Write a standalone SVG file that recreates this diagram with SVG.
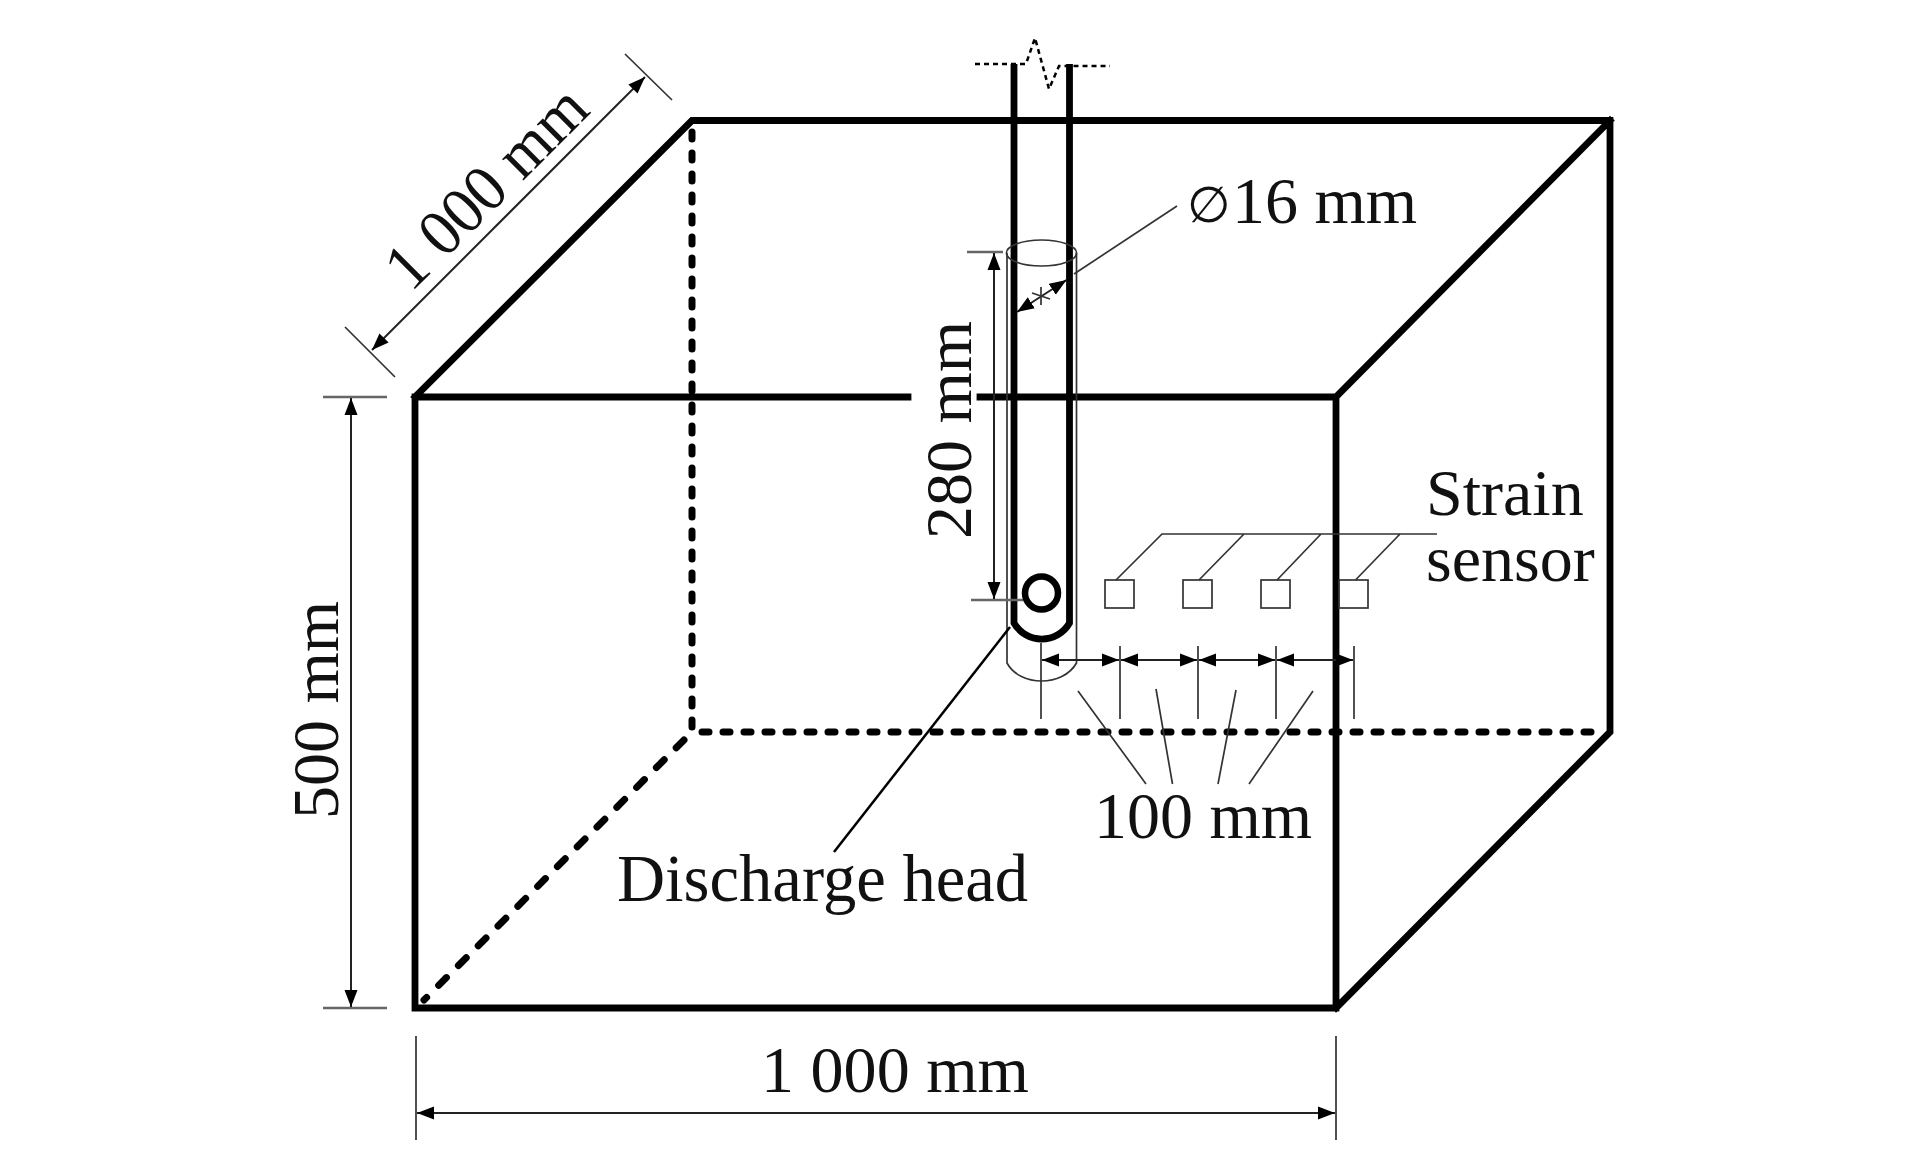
<svg xmlns="http://www.w3.org/2000/svg" width="1923" height="1169" viewBox="0 0 1923 1169">
<style>
.b{fill:none;stroke:#000;stroke-width:6.8;stroke-linecap:square}
.d{fill:none;stroke:#000;stroke-width:7;stroke-dasharray:7 14;stroke-linecap:round}
.t{fill:none;stroke:#333;stroke-width:1.7}
.g{fill:none;stroke:#666;stroke-width:2.6}
.a{fill:none;stroke:#222;stroke-width:2;marker-start:url(#ah);marker-end:url(#ah)}
text{font-family:"Liberation Serif","DejaVu Serif",serif;fill:#111;font-size:66px}
</style>
<defs>
<marker id="ah" markerUnits="userSpaceOnUse" markerWidth="18" markerHeight="14" refX="17" refY="7" orient="auto-start-reverse"><path d="M0 0.5L17 7L0 13.5Z" fill="#000"/></marker>
</defs>
<rect width="1923" height="1169" fill="#fff"/>
<g id="tank">
<path class="b" d="M415 1008H1336V397H980M908 397H415V1008M415 397L692 120.500H1610V732L1336 1008M1336 397L1610 120.500"/>
<path class="d" d="M692 132V732M702 732H1604"/>
<path class="d" style="stroke-dasharray:11 17" d="M684 740L424 1000"/>
</g>
<g id="pipe">
<path d="M1014 64V623A32 32 0 0 0 1069.500 623V64" fill="none" stroke="#000" stroke-width="6.800"/>
<circle cx="1041.500" cy="593" r="16.500" fill="none" stroke="#000" stroke-width="6.500"/>
<path d="M975 64H1026L1035 38L1049 89L1059 66H1110" fill="none" stroke="#000" stroke-width="2.500" stroke-dasharray="5 4"/>
<ellipse cx="1041.500" cy="253" rx="35" ry="13" class="t"/>
<path class="t" d="M1007 253V663C1020 687 1063 687 1076.500 663V253"/>
</g>
<g id="sensors">
<rect class="t" x="1105" y="580" width="29" height="28"/>
<rect class="t" x="1183" y="580" width="29" height="28"/>
<rect class="t" x="1261" y="580" width="29" height="28"/>
<rect class="t" x="1339" y="580" width="29" height="28"/>
<path class="t" d="M1437 534H1162L1116 580M1244 534L1199 580M1321 534L1277 580M1400 534L1355.500 580"/>
</g>
<g id="connectors">
<path class="g" d="M323 397H387M323 1008H387"/>
<path class="a" d="M351 398V1007"/>
<path class="g" d="M967 252H1003M971 600H1023"/>
<path class="a" d="M994 253V599"/>
<path class="t" d="M345 327L395 377M625 54L672 100"/>
<path class="a" d="M372 350L645 77"/>
<path class="t" d="M416 1036V1140M1336 1036V1140"/>
<path class="a" d="M417 1113H1335"/>
<path class="t" d="M1177 206L1074 274"/>
<path class="a" d="M1017 312L1066.500 280"/>
<path class="t" d="M1041 287V305M1032 293L1050 299"/>
<path class="t" d="M1041 643V719M1120 646V719M1198 646V719M1276 646V719M1354 646V719"/>
<path class="a" d="M1042 660H1119"/>
<path class="a" d="M1121 660H1197"/>
<path class="a" d="M1199 660H1275"/>
<path class="a" d="M1277 660H1353"/>
<path class="t" d="M1078 691L1146 784M1156 689L1172.500 784M1236 690L1218 784M1313 691L1249 784"/>
<path d="M1010 627L834 852" fill="none" stroke="#000" stroke-width="2.500"/>
</g>
<g id="labels">
<text x="761" y="1092" textLength="268" lengthAdjust="spacingAndGlyphs">1 000 mm</text>
<text transform="translate(338 710) rotate(-90)" text-anchor="middle">500 mm</text>
<text transform="translate(971 430) rotate(-90)" text-anchor="middle">280 mm</text>
<text transform="translate(411 293) rotate(-45)" textLength="256" lengthAdjust="spacingAndGlyphs">1 000 mm</text>
<text x="1187" y="222" style="font-size:50px">∅</text>
<text x="1232" y="223">16 mm</text>
<text x="1426" y="515">Strain</text>
<text x="1426" y="581">sensor</text>
<text x="1094" y="838">100 mm</text>
<text x="617" y="901" style="font-size:66.600px">Discharge head</text>
</g>
</svg>
